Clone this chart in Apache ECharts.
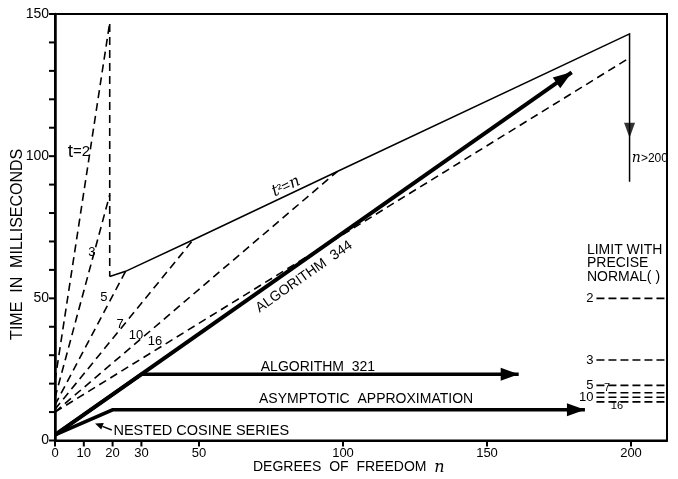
<!DOCTYPE html>
<html>
<head>
<meta charset="utf-8">
<script src="https://cdn.jsdelivr.net/npm/echarts@6/dist/echarts.min.js"></script>
<style>
html,body{margin:0;padding:0;background:#fff;}
#c{width:678px;height:479px;}
</style>
</head>
<body>
<div id="c"></div>
<script>
// ---------------- data (n = degrees of freedom, time in milliseconds) ----------------
const xTicks = [0, 10, 20, 30, 50, 100, 150, 200];
const yTicks = [0, 10, 20, 30, 40, 50, 60, 70, 80, 90, 100, 110, 120, 130, 140, 150];
const yLabelValues = [0, 50, 100, 150];

const alg344 = [[0, 2], [179.4, 129.5]];
const alg321 = [[0, 2], [30, 23.3], [161, 23.3]];
const asymptotic = [[0, 2], [20, 10.8], [184, 10.8]];
const tSquaredEqualsN = [[19, 57.7], [24.5, 59.5], [48, 70.6], [98, 94.6], [199.5, 143], [199.5, 91]];
const nOver200Arrow = [[199.5, 106.5]];

const t2 = [[0, 21], [19, 147], [19, 57.7]];
const t3 = [[0, 15], [19, 86.4]];
const t5 = [[0, 12.5], [24.5, 59.5]];
const t7 = [[0, 11], [48, 70.6]];
const t10 = [[0, 10], [98, 94.6]];
const t16 = [[0, 10], [199.5, 134.6]];

const limitLabels = ['2', '3', '5', '7', '10', '16'];
const limitValues = [50, 28.3, 19.4, 16.8, 15.2, 13.6];
const limitFrom = 188;
const limitTo = 212.5;

// ---------------- chart ----------------
const FONT = "'Liberation Sans', Arial, Helvetica, sans-serif";
const chart = echarts.init(document.getElementById('c'), null, {renderer: 'canvas'});

function withArrow(points, rot, off, size) {
  return points.map((p, i) => i === points.length - 1
    ? {value: p, symbol: 'triangle', symbolSize: size, symbolRotate: rot, symbolOffset: off, itemStyle: {color: '#000'}}
    : {value: p});
}
function line(data, width, type, z) {
  return {
    type: 'line', data: data, symbol: 'none', showAllSymbol: true, silent: true,
    animation: false, z: z || 2,
    lineStyle: {color: '#000', width: width, type: type || 'solid', cap: 'butt', join: 'miter'},
    itemStyle: {color: '#000'}
  };
}
const DASH = [8, 5];

const series = [
  line(withArrow(alg344, -55, [-7.4, 5.2], [13, 19]), 4, 'solid', 4),
  line(withArrow(alg321, -90, [-9, 0], [13, 18]), 3.5, 'solid', 4),
  line(withArrow(asymptotic, -90, [-9, 0], [13, 18]), 3.5, 'solid', 4),
  line(tSquaredEqualsN, 1.5, 'solid', 3),
  {
    type: 'scatter', data: nOver200Arrow, silent: true, animation: false, z: 5,
    symbol: 'triangle', symbolSize: [11, 15], symbolRotate: 180, symbolOffset: [0, -7.5],
    itemStyle: {color: '#000'}
  },
  line(t2, 1.6, DASH),
  line(t3, 1.6, DASH),
  line(t5, 1.6, DASH),
  line(t7, 1.6, DASH),
  line(t10, 1.6, DASH),
  line(t16, 1.6, DASH)
];
limitValues.forEach(v => series.push(line([[limitFrom, v], [limitTo, v]], 1.6, [8, 4])));

chart.setOption({
  backgroundColor: '#fff',
  animation: false,
  grid: {left: 55, right: 11, top: 14, bottom: 38.5, show: true, borderColor: '#000', borderWidth: 2,
         containLabel: false, outerBoundsMode: 'none'},
  xAxis: {
    type: 'value', min: 0, max: limitTo, interval: 10,
    axisLine: {show: true, onZero: false, lineStyle: {color: '#000', width: 2}},
    axisTick: {show: false},
    axisLabel: {customValues: xTicks, color: '#000', fontSize: 13, fontFamily: FONT, margin: 6},
    splitLine: {show: false}
  },
  yAxis: {
    type: 'value', min: 0, max: 150, interval: 50,
    axisLine: {show: true, onZero: false, lineStyle: {color: '#000', width: 2.5}},
    axisTick: {show: false},
    axisLabel: {customValues: yLabelValues, color: '#000', fontSize: 14, fontFamily: FONT, margin: 6},
    splitLine: {show: false}
  },
  series: series
});

// ---------------- annotations (anchored in data coordinates) ----------------
function px(p) { return chart.convertToPixel({gridIndex: 0}, p); }
function txt(text, at, o) {
  o = o || {};
  const p = px(at);
  return {
    type: 'text', x: p[0] + (o.dx || 0), y: p[1] + (o.dy || 0),
    rotation: (o.rot || 0) * Math.PI / 180, z: 10, silent: true,
    style: {
      text: text, fill: '#000', fontFamily: o.family || FONT, fontSize: o.size || 14,
      fontStyle: o.style || 'normal',
      align: o.align || 'center', verticalAlign: 'middle', rich: o.rich
    }
  };
}
const ital = {fontStyle: 'italic', fontFamily: "'DejaVu Serif', 'Liberation Serif', serif", fill: '#000'};
const graphics = [
  txt('{b|t}{s|=2}', [8.3, 101.6], {rich: {b: {fontSize: 19, fontFamily: FONT, fill: '#000'}, s: {fontSize: 15, fontFamily: FONT, fill: '#000'}}}),
  txt('3', [12.8, 66], {size: 13}),
  txt('5', [17, 50.2], {size: 13}),
  txt('7', [22.6, 40.7], {size: 13}),
  txt('10', [28.1, 37.1], {size: 13}),
  txt('16', [34.7, 34.7], {size: 13}),
  txt('{i|t}{sp|²}{s|=}{i|n}', [80.2, 89.3], {rot: 25, rich: {
      i: Object.assign({fontSize: 16}, ital), sp: {fontSize: 13, fontFamily: FONT, fill: '#000'},
      s: {fontSize: 14, fontFamily: FONT, fill: '#000'}}}),
  txt('ALGORITHM  344', [86.5, 57.6], {rot: 35, size: 14}),
  txt('ALGORITHM  321', [91.3, 25.9], {size: 14}),
  txt('ASYMPTOTIC  APPROXIMATION', [108, 14.6], {size: 14}),
  txt('NESTED COSINE SERIES', [20.3, 3.3], {size: 14.5, align: 'left'}),
  txt('{i|n}>200', [200.3, 99.1], {size: 12, align: 'left', rich: {i: Object.assign({fontSize: 14}, ital)}}),
  txt('LIMIT WITH', [184.7, 67.1], {size: 14, align: 'left'}),
  txt('PRECISE', [184.7, 62.5], {size: 14, align: 'left'}),
  txt('NORMAL( )', [184.7, 57.6], {size: 14, align: 'left'}),
  txt(limitLabels[0], [187, limitValues[0]], {size: 13, align: 'right'}),
  txt(limitLabels[1], [187, limitValues[1]], {size: 13, align: 'right'}),
  txt(limitLabels[2], [187, limitValues[2]], {size: 13, align: 'right'}),
  txt(limitLabels[3], [191.7, 18.4], {size: 11}),
  txt(limitLabels[4], [187, limitValues[4]], {size: 13, align: 'right'}),
  txt(limitLabels[5], [195.1, 12.3], {size: 11})
];
// axis tick marks, placed through the axes' own scales
const TICK = 6;
yTicks.forEach(v => {
  const p = px([0, v]);
  graphics.push({type: 'line', silent: true, z: 10, shape: {x1: p[0] - TICK, y1: p[1], x2: p[0], y2: p[1]},
                 style: {stroke: '#000', lineWidth: 2}});
});
xTicks.forEach(v => {
  const p = px([v, 0]);
  graphics.push({type: 'line', silent: true, z: 10, shape: {x1: p[0], y1: p[1], x2: p[0], y2: p[1] + TICK},
                 style: {stroke: '#000', lineWidth: 2}});
});
// pointer arrow for "NESTED COSINE SERIES"
(function () {
  const a = px([19.7, 3.7]), b = px([13.9, 6.0]);
  const ang = Math.atan2(b[1] - a[1], b[0] - a[0]);
  const L = 8, W = 3.5;
  const bx = b[0] - L * Math.cos(ang), by = b[1] - L * Math.sin(ang);
  graphics.push({type: 'line', silent: true, z: 10, shape: {x1: a[0], y1: a[1], x2: bx, y2: by},
                 style: {stroke: '#000', lineWidth: 1.5}});
  graphics.push({type: 'polygon', silent: true, z: 10, shape: {points: [
      [b[0], b[1]],
      [bx + W * Math.sin(ang), by - W * Math.cos(ang)],
      [bx - W * Math.sin(ang), by + W * Math.cos(ang)]]}, style: {fill: '#000'}});
})();
// axis titles
(function () {
  const o = px([0, 0]);
  const c = px([102, 0]);
  graphics.push({type: 'text', x: c[0], y: o[1] + 27, silent: true, z: 10,
    style: {text: 'DEGREES  OF  FREEDOM  {i|n}', fill: '#000', fontFamily: FONT, fontSize: 14,
            align: 'center', verticalAlign: 'middle', rich: {i: Object.assign({fontSize: 16}, ital)}}});
  const m = px([0, 69]);
  graphics.push({type: 'text', x: 18, y: m[1], rotation: Math.PI / 2, silent: true, z: 10,
    style: {text: 'TIME  IN  MILLISECONDS', fill: '#000', fontFamily: FONT, fontSize: 16,
            align: 'center', verticalAlign: 'middle'}});
})();
chart.setOption({graphic: graphics});
</script>
</body>
</html>
